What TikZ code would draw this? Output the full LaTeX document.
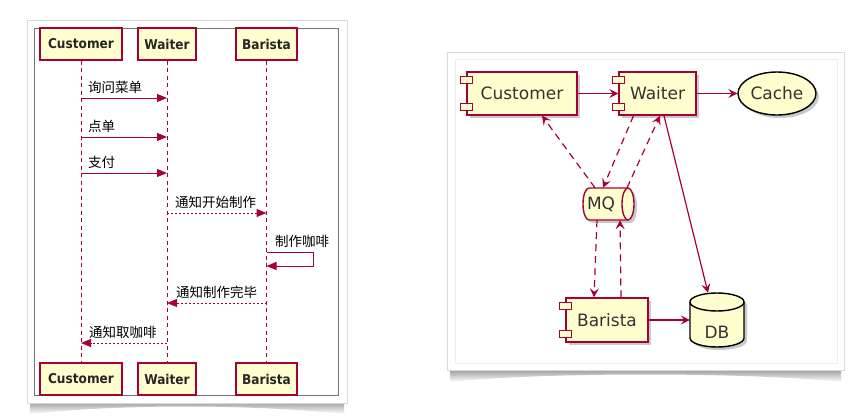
\documentclass[tikz,border=0pt]{standalone}
\usepackage{fontspec}
\setmainfont{DejaVu Sans}
\newfontfamily\partfont{DejaVu Sans Condensed}
\newfontfamily\cjk{Noto Sans CJK SC}
\usetikzlibrary{arrows.meta,shapes.geometric,shadows,calc}
\definecolor{pu}{HTML}{A80036}
\definecolor{pf}{HTML}{FEFECE}
\begin{document}
\begin{tikzpicture}[x=1pt,y=-1pt,
  partbox/.style={draw=pu,line width=1.1pt,fill=pf,minimum height=32pt,inner sep=0pt,font=\partfont\fontsize{13.5}{15}\selectfont\bfseries,text=black!85},
  life/.style={draw=pu,line width=1pt,dash pattern=on 4pt off 3.5pt},
  msg/.style={draw=pu,line width=1pt,-{Triangle[length=10pt,width=8pt]}},
  retmsg/.style={msg,dash pattern=on 2pt off 2pt},
  lab/.style={font=\cjk\fontsize{13.5}{15}\selectfont,inner sep=0pt,anchor=base west},
  shad/.style={drop shadow={shadow xshift=3pt,shadow yshift=-3pt,opacity=0.35,fill=black!60}},
  comp/.style={draw=pu,line width=1.4pt,fill=pf,inner sep=0pt,minimum height=43pt,font=\fontsize{17}{20}\selectfont,text=black!80,shad},
  compbar/.style={draw=pu,line width=1.2pt,fill=pf},
  arr/.style={draw=pu,line width=1.2pt,-{Stealth[length=9pt,width=9pt,inset=3.5pt]}},
  darr/.style={arr,dash pattern=on 7pt off 5pt},
  txt/.style={font=\fontsize{17}{20}\selectfont,inner sep=0pt,text=black!80}
]
\useasboundingbox (0,0) rectangle (868,418);
\fill[white] (0,0) rectangle (868,418);

% ---------- left card ----------
\shade[top color=black!50,bottom color=white] (30,398) -- (344,398) -- (344,414) .. controls (250,404) and (120,404) .. (30,414) -- cycle;
\filldraw[fill=white,draw=black!15,line width=0.5pt] (27,20) rectangle (347,403);
\draw[black!55,line width=0.8pt] (34,28) rectangle (338,395);

\node[partbox,minimum width=82pt] (cT) at (81,44) {Customer};
\node[partbox,minimum width=58pt] (wT) at (167,44) {Waiter};
\node[partbox,minimum width=61pt] (bT) at (266.5,44) {Barista};
\node[partbox,minimum width=82pt] (cB) at (81,379) {Customer};
\node[partbox,minimum width=58pt] (wB) at (167,379) {Waiter};
\node[partbox,minimum width=61pt] (bB) at (266.5,379) {Barista};

\draw[life] (cT) -- (cB);
\draw[life] (wT) -- (wB);
\draw[life] (bT) -- (bB);

\coordinate (c1) at (81,98);  \coordinate (w1) at (167,98);
\coordinate (c2) at (81,137); \coordinate (w2) at (167,137);
\coordinate (c3) at (81,173); \coordinate (w3) at (167,173);
\coordinate (w4) at (167,213); \coordinate (b4) at (266.5,213);
\coordinate (b5a) at (266.5,252); \coordinate (b5r) at (313,252);
\coordinate (b5s) at (313,266); \coordinate (b5b) at (266.5,266);
\coordinate (b6) at (266.5,303); \coordinate (w6) at (167,303);
\coordinate (w7) at (167,343); \coordinate (c7) at (81,343);

\draw[msg] (c1) -- (w1);
\node[lab] (l1) at (88,92) {询问菜单};
\draw[msg] (c2) -- (w2);
\node[lab] (l2) at (88,131) {点单};
\draw[msg] (c3) -- (w3);
\node[lab] (l3) at (88,167) {支付};
\draw[retmsg] (w4) -- (b4);
\node[lab] (l4) at (175,207) {通知开始制作};
\draw[msg] (b5a) -- (b5r) -- (b5s) -- (b5b);
\node[lab] (l5) at (275,246) {制作咖啡};
\draw[retmsg] (b6) -- (w6);
\node[lab] (l6) at (176,297) {通知制作完毕};
\draw[retmsg] (w7) -- (c7);
\node[lab] (l7) at (89,337) {通知取咖啡};

% ---------- right card ----------
\shade[top color=black!50,bottom color=white] (450,366) -- (841,366) -- (841,382) .. controls (750,372) and (540,372) .. (450,382) -- cycle;
\filldraw[fill=white,draw=black!15,line width=0.5pt] (447,52) rectangle (844,370);
\draw[black!7] (455,59) rectangle (837,363);

\node[comp,minimum width=110pt] (cust) at (522,93.5) {Customer};
\draw[compbar] ($(cust.north west)+(-6,5)$) rectangle ++(12,7);
\draw[compbar] ($(cust.south west)+(-6,-12)$) rectangle ++(12,7);

\node[comp,minimum width=77pt] (wait) at (657.5,93.5) {Waiter};
\draw[compbar] ($(wait.north west)+(-6,5)$) rectangle ++(12,7);
\draw[compbar] ($(wait.south west)+(-6,-12)$) rectangle ++(12,7);

\node[comp,minimum width=82pt,minimum height=44pt] (bar) at (607,320) {Barista};
\draw[compbar] ($(bar.north west)+(-6,5)$) rectangle ++(12,7);
\draw[compbar] ($(bar.south west)+(-6,-12)$) rectangle ++(12,7);

\node[ellipse,draw=black,line width=1.4pt,fill=pf,minimum width=78pt,minimum height=43pt,inner sep=0pt,font=\fontsize{17}{20}\selectfont,text=black!80,shad] (cache) at (777,93.5) {Cache};

% MQ (horizontal cylinder)
\filldraw[draw=pu,fill=pf,line width=1.4pt,shad] (589,188) -- (628,188) arc[start angle=-90,end angle=90,x radius=6,y radius=16] -- (589,220) arc[start angle=90,end angle=270,x radius=6,y radius=16] -- cycle;
\draw[draw=pu,line width=1.4pt] (628,188) arc[start angle=270,end angle=90,x radius=6,y radius=16];
\node[txt,minimum width=51pt,minimum height=32pt,text width=51pt,align=left] (mq) at (608.5,204) {\hspace*{4pt}MQ};

% DB (vertical cylinder)
\filldraw[draw=black,fill=pf,line width=1.4pt,shad] (690,302) -- (690,338) arc[start angle=180,end angle=0,x radius=27,y radius=9] -- (744,302) arc[start angle=0,end angle=-180,x radius=27,y radius=9] -- cycle;
\draw[black,line width=1.4pt] (690,302) arc[start angle=180,end angle=0,x radius=27,y radius=9];
\node[txt,minimum width=54pt,minimum height=54pt,text height=36pt,text depth=0pt] (db) at (717,320) {DB};

% connectors
\draw[arr] (cust) -- (wait);
\draw[arr] (wait) -- (cache);
\draw[darr] ([xshift=-13.5pt]mq.north) -- ([xshift=20pt]cust.south);
\draw[darr] ([xshift=-24pt]wait.south) -- ([xshift=-5.5pt]mq.north);
\draw[darr] ([xshift=18.5pt]mq.north) -- ([xshift=2.5pt]wait.south);
\draw[arr] ([xshift=6.5pt]wait.south) -- ([xshift=-9pt]db.north);
\draw[darr] ([xshift=-11.5pt]mq.south) -- ([xshift=-13pt]bar.north);
\draw[darr] ([xshift=14pt]bar.north) -- ([xshift=11.5pt]mq.south);
\draw[arr] (bar) -- (db);
\end{tikzpicture}
\end{document}
